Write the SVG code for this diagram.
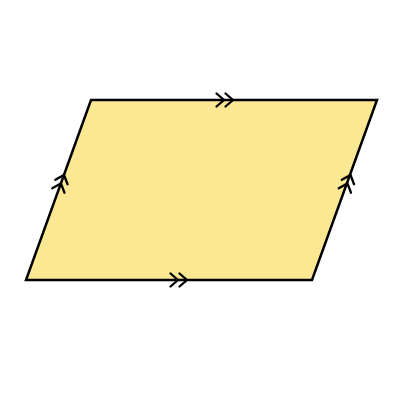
<svg xmlns="http://www.w3.org/2000/svg" width="400" height="400" viewBox="0 0 400 400">
<defs>
<style>
.shape{fill:#FCE793;stroke:#000;stroke-width:2.5;stroke-linejoin:miter}
.tick{fill:none;stroke:#000;stroke-width:2.3;stroke-linecap:round;stroke-linejoin:miter}
</style>
<path id="dbl" class="tick" d="M-7.5,-6.5 L0,0 L-7.5,6.5 M-16.5,-6.5 L-9,0 L-16.5,6.5"/>
</defs>
<rect width="400" height="400" fill="#fff"/>
<g id="parallelogram">
<polygon class="shape" points="91,100 377,100 312,280 26,280"/>
</g>
<g id="marks">
<use href="#dbl" transform="translate(233,100)"/>
<use href="#dbl" transform="translate(187,280)"/>
<use href="#dbl" transform="translate(64,175) rotate(-70.1)"/>
<use href="#dbl" transform="translate(350.5,175) rotate(-70.1)"/>
</g>
</svg>
